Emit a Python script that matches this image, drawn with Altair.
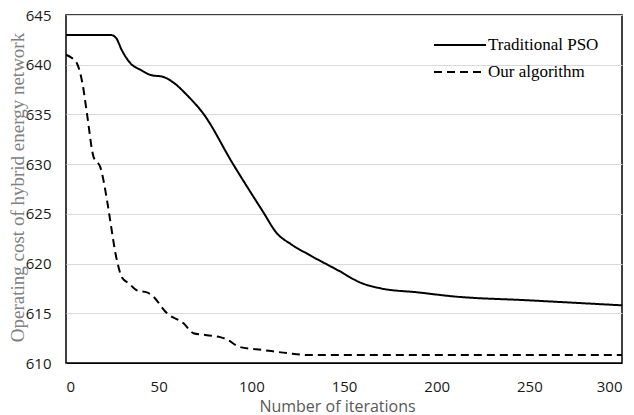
import altair as alt
import pandas as pd

# Traditional PSO
pso_x = [0, 24, 27, 30, 35, 40, 46, 52, 58, 65, 74, 90, 106, 114, 121, 132, 146, 160, 170, 190, 209, 250, 300]
pso_y = [643, 643, 642.7, 641.5, 640.1, 639.5, 638.95, 638.8, 638.2, 637.0, 635.1, 630.05, 625.3,
         623.0, 622.0, 620.8, 619.4, 618.0, 617.5, 617.1, 616.7, 616.3, 615.8]

# Our algorithm
our_x = [0, 3, 6, 9, 11.3, 14.9, 18.5, 22.1, 23, 27.5, 30.2, 34, 38.3, 43.7, 46.4, 54.5, 63.4,
         68.8, 76, 83.2, 85.9, 94, 106.6, 119.2, 131.8, 300]
our_y = [641, 640.7, 640.1, 638.0, 635.1, 630.7, 629.7, 626.4, 625.35, 620.3, 618.6, 618.0, 617.3,
         617.1, 616.8, 615.0, 614.0, 613.0, 612.8, 612.6, 612.45, 611.6, 611.3, 611.0, 610.8, 610.8]

series_names = ["Traditional PSO", "Our algorithm"]
x_ticks = [0, 50, 100, 150, 200, 250, 300]
y_ticks = [610, 615, 620, 625, 630, 635, 640, 645]

rows = []
for x, y in zip(pso_x, pso_y):
    rows.append({"iter": x, "cost": y, "series": series_names[0]})
for x, y in zip(our_x, our_y):
    rows.append({"iter": x, "cost": y, "series": series_names[1]})
df = pd.DataFrame(rows)

chart = alt.Chart(df).mark_line(interpolate="monotone", strokeWidth=2, color="black").encode(
    x=alt.X("iter:Q", scale=alt.Scale(domain=[0, 300], nice=False),
            axis=alt.Axis(values=x_ticks, title="Number of iterations", grid=False, ticks=False,
                          labelPadding=16, titleFontSize=16, titleFont="Open Sans",
                          titleFontWeight="normal", titleColor="#595959", titleX=271,
                          titleY=48, titleBaseline="alphabetic")),
    y=alt.Y("cost:Q", scale=alt.Scale(domain=[610, 645], nice=False, zero=False),
            axis=alt.Axis(values=y_ticks, title="Operating cost of hybrid energy network", ticks=False,
                          labelPadding=15, gridColor="#d9d9d9", gridWidth=1,
                          titleFont="Liberation Serif", titleFontSize=19, titleFontWeight="normal",
                          titleColor="#808080", titleX=-49, titleY=172, titleBaseline="middle",
                          domain=False)),
    strokeDash=alt.StrokeDash("series:N", scale=alt.Scale(domain=series_names, range=[[1, 0], [8, 5]]),
                              legend=alt.Legend(title=None, orient="none", legendX=367, legendY=21,
                                                symbolType="stroke", symbolSize=2704, symbolStrokeWidth=2,
                                                symbolStrokeColor="black", labelFont="Liberation Serif",
                                                labelFontSize=17, labelColor="black", labelOffset=1,
                                                clipHeight=18, rowPadding=9)),
    detail="series:N",
).properties(
    width=556, height=348,
    autosize=alt.AutoSizeParams(type="none"),
    padding={"left": 58, "top": 7, "right": 4, "bottom": 54},
).configure_view(
    stroke="black", strokeWidth=1.5
).configure_axis(
    labelFont="Open Sans", labelFontSize=15, labelColor="#1a1a1a", domainColor="black"
)

chart.save("out.html", embed_options={"renderer": "svg", "actions": False})
